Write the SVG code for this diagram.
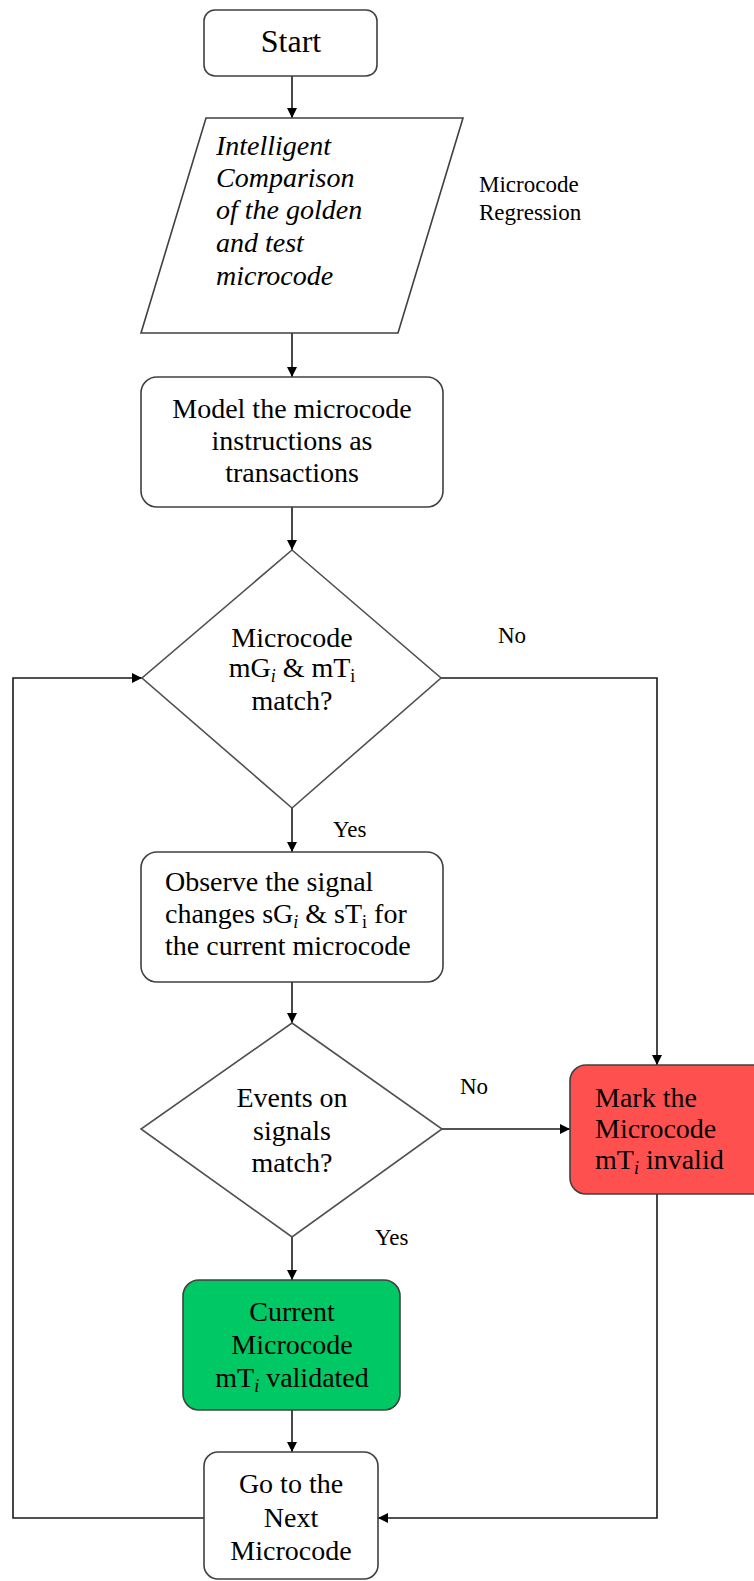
<svg xmlns="http://www.w3.org/2000/svg" width="754" height="1581" viewBox="0 0 754 1581">
<style>
text{font-family:"Liberation Serif","Times New Roman",serif;font-size:28px;fill:#000}
.c{text-anchor:middle}
.it{font-style:italic}
.lbl{font-size:23px}
.box{fill:#fff;stroke:#404040;stroke-width:1.6}
.dia{fill:#fff;stroke:#505050;stroke-width:1.6}
.ln{fill:none;stroke:#1a1a1a;stroke-width:1.6}
.sub{font-size:18px}
</style>
<defs>
<marker id="ah" viewBox="0 0 10 10" refX="10" refY="5" markerWidth="10" markerHeight="10" markerUnits="userSpaceOnUse" orient="auto">
<path d="M0,0 L10,5 L0,10 z" fill="#000"/>
</marker>
</defs>
<rect width="754" height="1581" fill="#fff"/>

<g id="connectors">
<path class="ln" d="M292,76 V118" marker-end="url(#ah)"/>
<path class="ln" d="M292,333 V377" marker-end="url(#ah)"/>
<path class="ln" d="M292,507 V550" marker-end="url(#ah)"/>
<path class="ln" d="M292,808 V852" marker-end="url(#ah)"/>
<path class="ln" d="M292,982 V1023" marker-end="url(#ah)"/>
<path class="ln" d="M292,1237 V1280" marker-end="url(#ah)"/>
<path class="ln" d="M292,1410 V1452" marker-end="url(#ah)"/>
<path class="ln" d="M441,678 H657 V1065" marker-end="url(#ah)"/>
<path class="ln" d="M442,1129 H570" marker-end="url(#ah)"/>
<path class="ln" d="M657,1194 V1518 H378" marker-end="url(#ah)"/>
<path class="ln" d="M204,1518 H13 V678 H142" marker-end="url(#ah)"/>
<text class="lbl" x="498" y="643">No</text>
<text class="lbl" x="333" y="837">Yes</text>
<text class="lbl" x="460" y="1094">No</text>
<text class="lbl" x="375" y="1245">Yes</text>
</g>

<g id="start">
<rect class="box" x="204" y="10" width="173" height="66" rx="11"/>
<text class="c" x="291" y="52" style="font-size:32px">Start</text>
</g>

<g id="compare">
<polygon class="box" points="206,118 463,118 398,333 141,333"/>
<text class="it" x="216" y="155">Intelligent</text>
<text class="it" x="216" y="187">Comparison</text>
<text class="it" x="216" y="219">of the golden</text>
<text class="it" x="216" y="252">and test</text>
<text class="it" x="216" y="285">microcode</text>
</g>

<g id="regression-note">
<text class="lbl" x="479" y="192">Microcode</text>
<text class="lbl" x="479" y="220">Regression</text>
</g>

<g id="model">
<rect class="box" x="141" y="377" width="302" height="130" rx="16"/>
<text class="c" x="292" y="418">Model the microcode</text>
<text class="c" x="292" y="450">instructions as</text>
<text class="c" x="292" y="482">transactions</text>
</g>

<g id="match1">
<polygon class="dia" points="292,550 441,678 292,808 142,678"/>
<text class="c" x="292" y="647">Microcode</text>
<text class="c" x="292" y="677">mG<tspan class="sub it" dy="5">i</tspan><tspan dy="-5"> &amp; mT</tspan><tspan class="sub" dy="5">i</tspan></text>
<text class="c" x="292" y="710">match?</text>
</g>

<g id="observe">
<rect class="box" x="141" y="852" width="302" height="130" rx="16"/>
<text x="165" y="891">Observe the signal</text>
<text x="165" y="923">changes sG<tspan class="sub it" dy="5">i</tspan><tspan dy="-5"> &amp; sT</tspan><tspan class="sub" dy="5">i</tspan><tspan dy="-5"> for</tspan></text>
<text x="165" y="955">the current microcode</text>
</g>

<g id="match2">
<polygon class="dia" points="292,1023 442,1129 292,1237 141,1129"/>
<text class="c" x="292" y="1107">Events on</text>
<text class="c" x="292" y="1140">signals</text>
<text class="c" x="292" y="1172">match?</text>
</g>

<g id="invalid">
<rect class="box" x="570" y="1065" width="200" height="129" rx="16" style="fill:#ff5050"/>
<text x="595" y="1107">Mark the</text>
<text x="595" y="1138">Microcode</text>
<text x="595" y="1169">mT<tspan class="sub it" dy="5">i</tspan><tspan dy="-5"> invalid</tspan></text>
</g>

<g id="validated">
<rect class="box" x="183" y="1280" width="217" height="130" rx="16" style="fill:#00c864"/>
<text class="c" x="292" y="1321">Current</text>
<text class="c" x="292" y="1354">Microcode</text>
<text class="c" x="292" y="1387">mT<tspan class="sub it" dy="5">i</tspan><tspan dy="-5"> validated</tspan></text>
</g>

<g id="next">
<rect class="box" x="204" y="1452" width="174" height="127" rx="14"/>
<text class="c" x="291" y="1493">Go to the</text>
<text class="c" x="291" y="1527">Next</text>
<text class="c" x="291" y="1560">Microcode</text>
</g>
</svg>
